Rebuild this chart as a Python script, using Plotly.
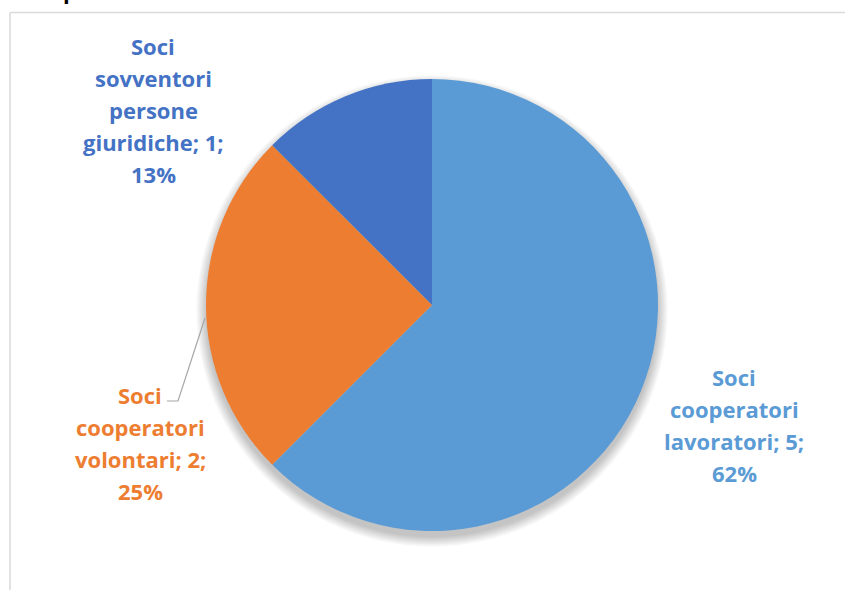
import plotly.graph_objects as go

W, H = 845, 590

categories = ["Soci cooperatori lavoratori", "Soci cooperatori volontari",
              "Soci sovventori persone giuridiche"]
values = [5, 2, 1]
percent_labels = ["62%", "25%", "13%"]
colors = ["#5B9BD5", "#ED7D31", "#4472C4"]

# how each data label wraps, and where its block sits (centre x, first line y) in px
label_lines = [
    ["Soci", "cooperatori", "lavoratori; {v};", "{p}"],
    ["Soci", "cooperatori", "volontari; {v};", "{p}"],
    ["Soci", "sovventori", "persone", "giuridiche; {v};", "{p}"],
]
label_pos = [(734, 377), (140, 395), (153, 46)]
LINE_STEP = 32

# pie geometry in px
CX, CY, R = 432, 305, 226


def px(x):
    return x / W


def py(y):
    return 1 - y / H


fig = go.Figure(go.Pie(
    labels=categories,
    values=values,
    sort=False,
    direction="clockwise",
    rotation=0,
    marker=dict(colors=colors, line=dict(width=0)),
    textinfo="none",
    hoverinfo="label+value",
    showlegend=False,
    domain=dict(x=[px(CX - R), px(CX + R)], y=[py(CY + R), py(CY - R)]),
))

shapes = []
# soft drop shadow under the pie
for i in range(12):
    rr = R + i * 0.9
    shapes.append(dict(
        type="circle", xref="paper", yref="paper", layer="below",
        x0=px(CX - rr), x1=px(CX + rr), y0=py(CY + 6 + rr), y1=py(CY + 6 - rr),
        fillcolor="rgba(0,0,0,0.018)", line=dict(width=0),
    ))

# chart area border (top and left edges visible)
shapes.append(dict(type="line", xref="paper", yref="paper",
                   x0=px(10), x1=1.01, y0=py(12.5), y1=py(12.5),
                   line=dict(color="#D9D9D9", width=1.5)))
shapes.append(dict(type="line", xref="paper", yref="paper",
                   x0=px(10), x1=px(10), y0=py(12.5), y1=-0.01,
                   line=dict(color="#D9D9D9", width=1.5)))

# leader line for the orange label
shapes.append(dict(type="path", xref="paper", yref="paper",
                   path="M {} {} L {} {} L {} {}".format(
                       px(167), py(401), px(178), py(401), px(205), py(318)),
                   line=dict(color="#A6A6A6", width=1.2)))

annotations = []
for lines, (lx, ly), v, p, c in zip(label_lines, label_pos, values,
                                    percent_labels, colors):
    for k, line in enumerate(lines):
        annotations.append(dict(
            x=px(lx), y=py(ly + k * LINE_STEP), xref="paper", yref="paper",
            text="<b>" + line.format(v=v, p=p) + "</b>", showarrow=False,
            xanchor="center", yanchor="middle",
            font=dict(family="Open Sans", size=22, color=c),
        ))

# title text above the chart area, mostly outside the page
annotations.append(dict(
    x=px(70), y=py(3), xref="paper", yref="paper", text="<b>p</b>",
    showarrow=False, xanchor="center", yanchor="bottom", yshift=-4,
    font=dict(family="Open Sans", size=22, color="#000000"),
))

fig.update_layout(
    width=W, height=H,
    margin=dict(l=0, r=0, t=0, b=0),
    paper_bgcolor="white",
    plot_bgcolor="white",
    shapes=shapes,
    annotations=annotations,
)

fig.write_html("out.html")
